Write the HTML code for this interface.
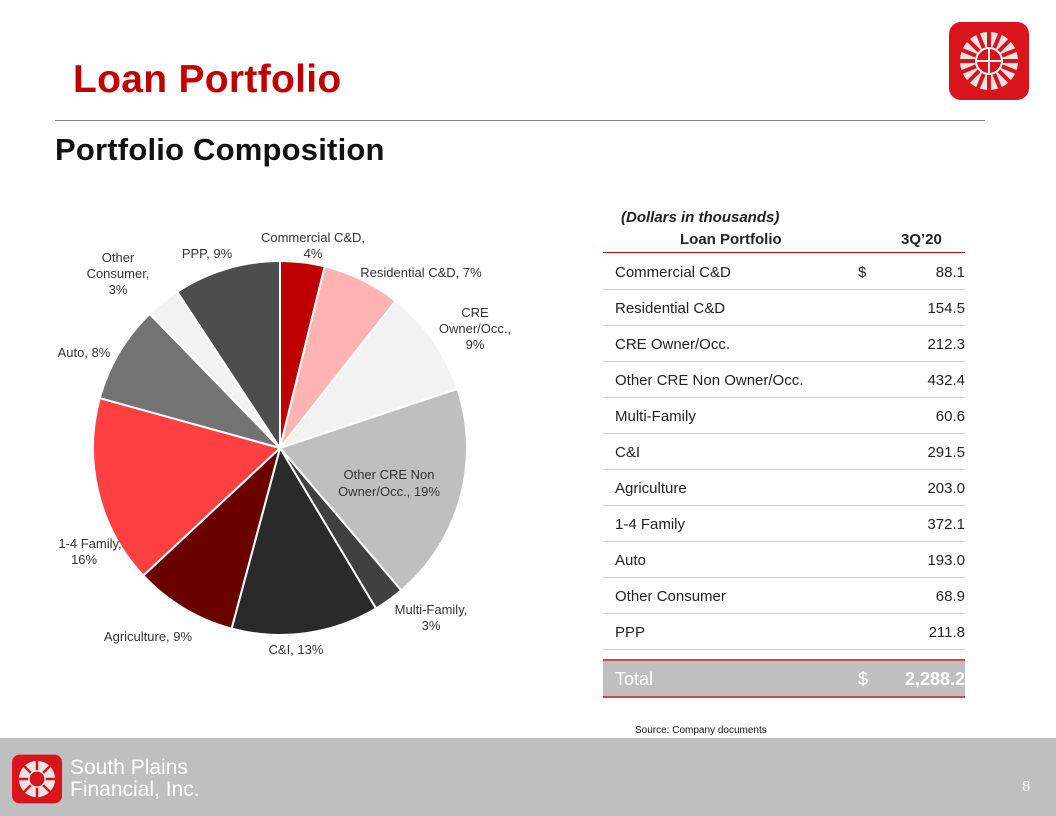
<!DOCTYPE html>
<html><head><meta charset="utf-8"><style>
body{margin:0;width:1056px;height:816px;background:#fff;position:relative;overflow:hidden;font-family:"Liberation Sans",Arial,sans-serif}
.a{position:absolute;white-space:nowrap}
.row{position:absolute;left:603px;width:362px;height:36px;border-bottom:1px solid #d0d0d0;font-size:15px;color:#222}
.row span{position:absolute;top:11px}
.l{left:12px}.d{left:255px}.v{right:0}
</style></head><body>
<div class="a" style="left:73px;top:58px;font-size:39px;font-weight:bold;color:#c00000;letter-spacing:0.3px">Loan Portfolio</div>
<div style="position:absolute;left:55px;top:120px;width:930px;height:1px;background:#888"></div>
<div class="a" style="left:55px;top:132px;font-size:31px;font-weight:bold;color:#111;letter-spacing:0.2px">Portfolio Composition</div>
<svg style="position:absolute;left:948px;top:21px" width="82" height="80" viewBox="0 0 82 80">
<rect x="1" y="1" width="80" height="78" rx="12" fill="#d9141c"/>
<circle cx="41" cy="40" r="29" fill="#e6e6e6"/>
<g stroke="#d9141c" stroke-width="4">
<line x1="41" y1="11" x2="41" y2="69"/><line x1="12" y1="40" x2="70" y2="40"/>
<line x1="20" y1="19" x2="62" y2="61"/><line x1="62" y1="19" x2="20" y2="61"/>
<line x1="30" y1="13" x2="52" y2="67"/><line x1="52" y1="13" x2="30" y2="67"/>
<line x1="14" y1="29" x2="68" y2="51"/><line x1="14" y1="51" x2="68" y2="29"/></g>
<circle cx="41" cy="40" r="13" fill="#d9141c" stroke="#fff" stroke-width="2"/>
<line x1="41" y1="27" x2="41" y2="53" stroke="#fff" stroke-width="2"/><line x1="28" y1="40" x2="54" y2="40" stroke="#fff" stroke-width="2"/>
</svg>
<svg style="position:absolute;left:0;top:0" width="600" height="700">
<g stroke="#fff" stroke-width="2">
<path d="M280,448 L280,261 A187,187 0 0 1 324.8,266.4Z" fill="#c00000"/>
<path d="M280,448 L324.8,266.4 A187,187 0 0 1 395.6,301.0Z" fill="#ffb3b3"/>
<path d="M280,448 L395.6,301.0 A187,187 0 0 1 457.4,388.9Z" fill="#f2f2f2"/>
<path d="M280,448 L457.4,388.9 A187,187 0 0 1 401.2,590.4Z" fill="#bfbfbf"/>
<path d="M280,448 L401.2,590.4 A187,187 0 0 1 376.0,608.5Z" fill="#404040"/>
<path d="M280,448 L376.0,608.5 A187,187 0 0 1 231.6,628.6Z" fill="#2a2a2a"/>
<path d="M280,448 L231.6,628.6 A187,187 0 0 1 143.3,575.6Z" fill="#6b0000"/>
<path d="M280,448 L143.3,575.6 A187,187 0 0 1 99.8,398.1Z" fill="#ff4040"/>
<path d="M280,448 L99.8,398.1 A187,187 0 0 1 149.7,313.9Z" fill="#737373"/>
<path d="M280,448 L149.7,313.9 A187,187 0 0 1 177.2,291.8Z" fill="#f2f2f2"/>
<path d="M280,448 L177.2,291.8 A187,187 0 0 1 280,261Z" fill="#4d4d4d"/>
</g>
<g font-size="13" fill="#333" text-anchor="middle" font-family="Liberation Sans,Arial,sans-serif">
<text x="313" y="242">Commercial C&amp;D,</text><text x="313" y="258">4%</text>
<text x="421" y="277">Residential C&amp;D, 7%</text>
<text x="475" y="317">CRE</text><text x="475" y="333">Owner/Occ.,</text><text x="475" y="349">9%</text>
<text x="389" y="479">Other CRE Non</text><text x="389" y="496">Owner/Occ., 19%</text>
<text x="431" y="614">Multi-Family,</text><text x="431" y="630">3%</text>
<text x="296" y="654">C&amp;I, 13%</text>
<text x="148" y="641">Agriculture, 9%</text>
<text x="90" y="548">1-4 Family,</text><text x="84" y="564">16%</text>
<text x="84" y="357">Auto, 8%</text>
<text x="118" y="262">Other</text><text x="118" y="278">Consumer,</text><text x="118" y="294">3%</text>
<text x="207" y="258">PPP, 9%</text>
</g></svg>
<div class="a" style="left:621px;top:209px;font-size:15px;font-weight:bold;font-style:italic;color:#222">(Dollars in thousands)</div>
<div class="a" style="left:680px;top:231px;font-size:15px;font-weight:bold;color:#222">Loan Portfolio</div>
<div class="a" style="left:901px;top:231px;font-size:15px;font-weight:bold;color:#222">3Q’20</div>
<div style="position:absolute;left:603px;top:252px;width:362px;height:1px;background:#c00000"></div>
<div class="row" style="top:253px"><span class="l">Commercial C&amp;D</span><span class="d">$</span><span class="v">88.1</span></div>
<div class="row" style="top:289px"><span class="l">Residential C&amp;D</span><span class="v">154.5</span></div>
<div class="row" style="top:325px"><span class="l">CRE Owner/Occ.</span><span class="v">212.3</span></div>
<div class="row" style="top:361px"><span class="l">Other CRE Non Owner/Occ.</span><span class="v">432.4</span></div>
<div class="row" style="top:397px"><span class="l">Multi-Family</span><span class="v">60.6</span></div>
<div class="row" style="top:433px"><span class="l">C&amp;I</span><span class="v">291.5</span></div>
<div class="row" style="top:469px"><span class="l">Agriculture</span><span class="v">203.0</span></div>
<div class="row" style="top:505px"><span class="l">1-4 Family</span><span class="v">372.1</span></div>
<div class="row" style="top:541px"><span class="l">Auto</span><span class="v">193.0</span></div>
<div class="row" style="top:577px"><span class="l">Other Consumer</span><span class="v">68.9</span></div>
<div class="row" style="top:613px"><span class="l">PPP</span><span class="v">211.8</span></div>
<div style="position:absolute;left:603px;top:659px;width:362px;height:35px;background:#bfbfbf;border-top:2px solid #c0504d;border-bottom:2px solid #c0504d;color:#fff;font-size:18px">
<span class="a" style="left:12px;top:8px">Total</span><span class="a" style="left:255px;top:8px">$</span><span class="a" style="right:0;top:8px;font-weight:bold">2,288.2</span></div>
<div class="a" style="left:635px;top:725px;font-size:10px;color:#111">Source: Company documents</div>
<div style="position:absolute;left:0;top:738px;width:1056px;height:78px;background:#bfbfbf"></div>
<svg style="position:absolute;left:11px;top:754px" width="52" height="50" viewBox="0 0 82 80">
<rect x="1" y="1" width="80" height="78" rx="12" fill="#d9141c"/>
<circle cx="41" cy="40" r="29" fill="#e6e6e6"/>
<g stroke="#d9141c" stroke-width="4"><line x1="41" y1="11" x2="41" y2="69"/><line x1="12" y1="40" x2="70" y2="40"/><line x1="20" y1="19" x2="62" y2="61"/><line x1="62" y1="19" x2="20" y2="61"/></g>
<circle cx="41" cy="40" r="13" fill="#d9141c" stroke="#fff" stroke-width="2"/></svg>
<div class="a" style="left:70px;top:757px;font-size:21px;color:#fff;line-height:22px">South Plains<br>Financial, Inc.</div>
<div class="a" style="left:1022px;top:778px;font-size:15px;color:#fff">8</div>
</body></html>
